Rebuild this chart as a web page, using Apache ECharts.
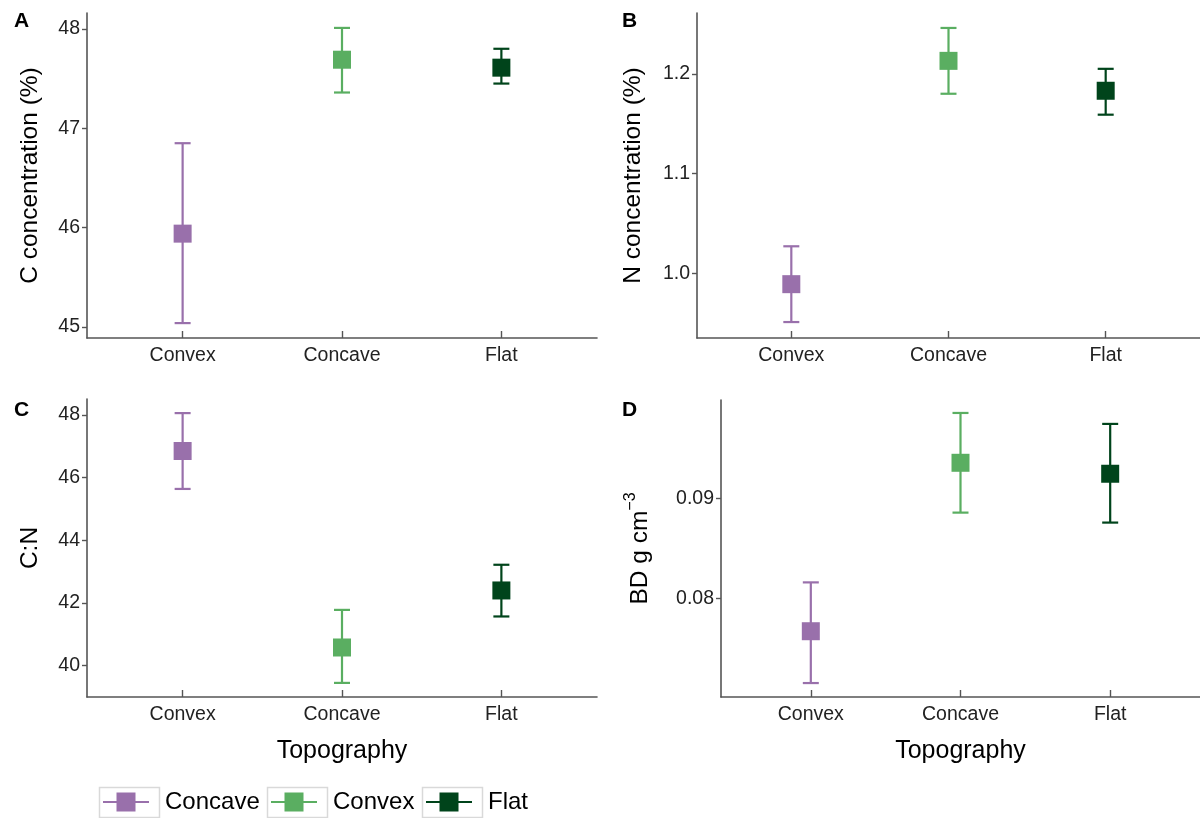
<!DOCTYPE html>
<html>
<head>
<meta charset="utf-8">
<title>Topography</title>
<script src="https://cdn.jsdelivr.net/npm/echarts@6/dist/echarts.min.js"></script>
<style>
html,body{margin:0;padding:0;background:#fff;}
#main{width:1200px;height:818px;}
</style>
</head>
<body>
<div id="main"></div>
<script type="text/javascript">
// categories on the x axis and the (mismatched) legend labels of the original
var categories = ['Convex', 'Concave', 'Flat'];
var legendLabels = ['Concave', 'Convex', 'Flat'];
var colors = ['#9970AB', '#5AAE61', '#00441B'];

// A: C concentration (%)
var cMean = [45.94, 47.69, 47.61];
var cLow  = [45.04, 47.36, 47.45];
var cHigh = [46.85, 48.01, 47.80];
var cTicks = [45, 46, 47, 48];

// B: N concentration (%)
var nMean = [0.989, 1.213, 1.183];
var nLow  = [0.951, 1.180, 1.159];
var nHigh = [1.027, 1.246, 1.205];
var nTicks = [1.0, 1.1, 1.2];

// C: C:N
var cnMean = [46.85, 40.58, 42.40];
var cnLow  = [45.64, 39.45, 41.57];
var cnHigh = [48.06, 41.78, 43.22];
var cnTicks = [40, 42, 44, 46, 48];

// D: bulk density
var bdMean = [0.0767, 0.0936, 0.0925];
var bdLow  = [0.0715, 0.0886, 0.0876];
var bdHigh = [0.0816, 0.0986, 0.0975];
var bdTicks = [0.08, 0.09];

var FONT = 'Liberation Sans';
var AXC = '#555';

var panels = [
  {mean: cMean, low: cLow, high: cHigh, ticks: cTicks, min: 44.89, max: 48.16, dec: 0,
   grid: {left: 87, top: 13, width: 510, height: 325}, name: 'C concentration (%)', gap: 44, xname: ''},
  {mean: nMean, low: nLow, high: nHigh, ticks: nTicks, min: 0.935, max: 1.261, dec: 1,
   grid: {left: 697, top: 13, width: 503, height: 325}, name: 'N concentration (%)', gap: 51, xname: ''},
  {mean: cnMean, low: cnLow, high: cnHigh, ticks: cnTicks, min: 39.0, max: 48.51, dec: 0,
   grid: {left: 87, top: 399, width: 510, height: 298}, name: 'C:N', gap: 44, xname: 'Topography'},
  {mean: bdMean, low: bdLow, high: bdHigh, ticks: bdTicks, min: 0.0701, max: 0.0999, dec: 2,
   grid: {left: 721, top: 400, width: 479, height: 297}, name: 'BD g cm{sup|\u22123}', gap: 64, xname: 'Topography'}
];

function renderErr(params, api) {
  var x = api.value(0);
  var lo = api.coord([x, api.value(1)]);
  var hi = api.coord([x, api.value(2)]);
  var c = colors[x];
  var w = 8;
  var st = {stroke: c, lineWidth: 2.2};
  return {type: 'group', children: [
    {type: 'line', shape: {x1: lo[0], y1: lo[1], x2: hi[0], y2: hi[1]}, style: st},
    {type: 'line', shape: {x1: hi[0] - w, y1: hi[1], x2: hi[0] + w, y2: hi[1]}, style: st},
    {type: 'line', shape: {x1: lo[0] - w, y1: lo[1], x2: lo[0] + w, y2: lo[1]}, style: st}
  ]};
}

var grids = [], xAxes = [], yAxes = [], series = [];
panels.forEach(function (p, k) {
  grids.push(p.grid);
  xAxes.push({
    type: 'value', gridIndex: k, min: -0.6, max: 2.6,
    name: p.xname, nameLocation: 'middle', nameGap: 42,
    nameTextStyle: {fontFamily: FONT, fontSize: 25, color: '#000'},
    splitLine: {show: false},
    axisLine: {show: true, onZero: false, lineStyle: {color: AXC, width: 1.6}},
    axisTick: {show: true, inside: true, length: 7, customValues: [0, 1, 2], lineStyle: {color: AXC, width: 1.4}},
    axisLabel: {customValues: [0, 1, 2], margin: 8, fontFamily: FONT, fontSize: 19.5, color: '#222',
      formatter: function (v) { return categories[Math.round(v)]; }}
  });
  yAxes.push({
    type: 'value', gridIndex: k, min: p.min, max: p.max,
    name: p.name, nameLocation: 'middle', nameGap: p.gap,
    nameTextStyle: {fontFamily: FONT, fontSize: 24.5, color: '#000',
      rich: {sup: {fontFamily: FONT, fontSize: 16, color: '#000', padding: [0, 0, 18, 0]}}},
    splitLine: {show: false},
    axisLine: {show: true, onZero: false, lineStyle: {color: AXC, width: 1.6}},
    axisTick: {show: true, length: 5, customValues: p.ticks, lineStyle: {color: AXC, width: 1.4}},
    axisLabel: {customValues: p.ticks, margin: 7, fontFamily: FONT, fontSize: 19.5, color: '#222',
      formatter: function (v) { return v.toFixed(p.dec); }}
  });
  var errData = categories.map(function (c, i) { return [i, p.low[i], p.high[i]]; });
  series.push({type: 'custom', xAxisIndex: k, yAxisIndex: k, renderItem: renderErr, data: errData, z: 2, silent: true});
  categories.forEach(function (c, i) {
    series.push({
      type: 'scatter', name: legendLabels[i], xAxisIndex: k, yAxisIndex: k,
      symbol: 'rect', symbolSize: 18, z: 3,
      itemStyle: {color: colors[i], opacity: 1},
      data: [[i, p.mean[i]]]
    });
  });
});

var iconPath = 'path://M0,8.5L13.5,8.5L13.5,0L32.5,0L32.5,8.5L46,8.5L46,10.5L32.5,10.5L32.5,19L13.5,19L13.5,10.5L0,10.5Z';
var legendLeft = [103, 271, 426];
var legends = legendLabels.map(function (n, i) {
  return {data: [n], left: legendLeft[i], top: 790, padding: 0, itemWidth: 46, itemHeight: 19,
    icon: iconPath, selectedMode: false,
    textStyle: {fontFamily: FONT, fontSize: 24, color: '#000', padding: [0, 0, 0, 11]}};
});

// legend frames and panel letters
var boxLeft = [97, 265, 420];
var graphics = boxLeft.map(function (x) {
  return {type: 'rect', left: x, top: 785, shape: {width: 60, height: 30},
    style: {fill: 'none', stroke: '#d9d9d9', lineWidth: 1.5}, z: -1};
});
[['A', 14, 11], ['B', 622, 11], ['C', 14, 400], ['D', 622, 400]].forEach(function (t) {
  graphics.push({type: 'text', left: t[1], top: t[2],
    style: {text: t[0], fontFamily: FONT, fontSize: 21, fontWeight: 'bold', fill: '#000'}});
});

var chart = echarts.init(document.getElementById('main'));
chart.setOption({
  animation: false,
  grid: grids,
  xAxis: xAxes,
  yAxis: yAxes,
  legend: legends,
  graphic: graphics,
  series: series
});
</script>
</body>
</html>
